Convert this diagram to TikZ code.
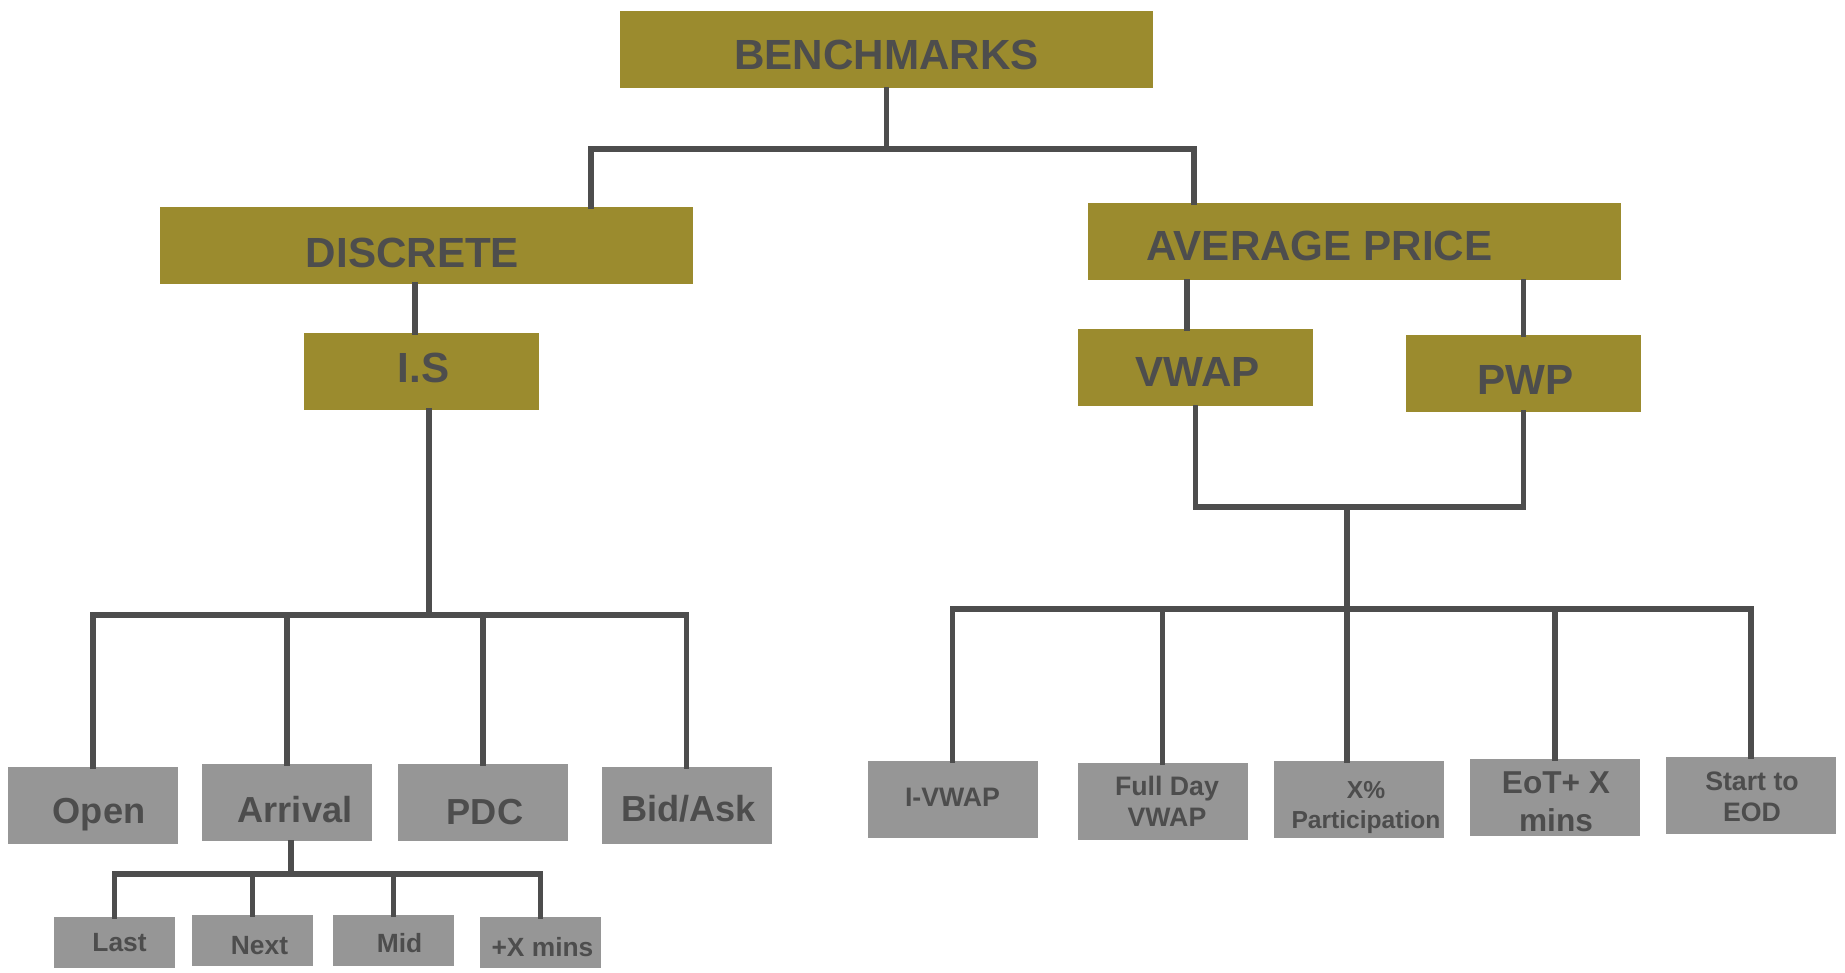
\documentclass[tikz,border=0pt]{standalone}
\usepackage{fontspec}
\setmainfont{Liberation Sans}
\usetikzlibrary{positioning}
\definecolor{olivebox}{HTML}{9B8B2E}
\definecolor{leafgray}{HTML}{969696}
\definecolor{darktext}{HTML}{4D4D4D}
% move a label inside its box: x, y (down), text
\newcommand{\nudge}[3]{\hspace*{2\dimexpr#1\relax}\raisebox{-#2}[\height][\depth]{#3}}
\newcommand{\twoline}[2]{\begin{tabular}{@{}c@{}}#1\\#2\end{tabular}}

\begin{document}
\begin{tikzpicture}[
		x=0.1mm, y=-0.1mm,
		every node/.style={font=\bfseries, text=darktext, inner sep=0pt},
		catbox/.style={fill=olivebox, minimum width=53.3mm, minimum height=7.7mm,
			font=\fontsize{12}{14}\selectfont\bfseries},
		midbox/.style={catbox, minimum width=23.5mm},
		leafbox/.style={fill=leafgray, minimum width=17mm, minimum height=7.7mm,
			align=center, font=\fontsize{10.3}{12}\selectfont\bfseries},
		rleaf/.style={leafbox, font=\fontsize{7.6}{8.8}\selectfont\bfseries},
		subbox/.style={fill=leafgray, minimum width=12.1mm, minimum height=5.1mm,
			font=\fontsize{7.5}{9}\selectfont\bfseries},
		conn/.style={line width=1.45pt, darktext, line cap=rect},
		]
		\useasboundingbox (0,0) rectangle (1845,973);

		% Top levels
		\node[catbox] (bench) at (886.5,50) {\nudge{0mm}{0.45mm}{BENCHMARKS}};
		\node[catbox] (disc) at (426.5,245.5) {\nudge{-1.4mm}{0.7mm}{DISCRETE}};
		\node[catbox] (avg) at (1354.5,242) {\nudge{-3.5mm}{0.35mm}{AVERAGE PRICE}};
		\node[midbox] (is) at (421.5,371.5) {\nudge{0.2mm}{-0.35mm}{I.S}};
		\node[midbox] (vwap) at (1195.5,368) {\nudge{0.2mm}{0.45mm}{VWAP}};
		\node[midbox] (pwp) at (1523.5,373.5) {\nudge{0.2mm}{0.7mm}{PWP}};

		% Discrete leaves
		\node[leafbox] (open) at (93,805.5) {\nudge{0.6mm}{0.9mm}{Open}};
		\node[leafbox] (arrival) at (287,803) {\nudge{0.8mm}{0.7mm}{Arrival}};
		\node[leafbox] (pdc) at (483,803) {\nudge{0.2mm}{0.9mm}{PDC}};
		\node[leafbox] (bidask) at (686.5,805.5) {\nudge{0.2mm}{0.35mm}{Bid/Ask}};

		% Arrival sub-leaves
		\node[subbox] (last) at (114.5,942.5) {\nudge{0.5mm}{0mm}{Last}};
		\node[subbox] (next) at (252.5,941) {\nudge{0.7mm}{0.45mm}{Next}};
		\node[subbox] (mid) at (393.5,941) {\nudge{0.6mm}{0.2mm}{Mid}};
		\node[subbox] (plusx) at (540.5,942.5) {\nudge{0.2mm}{0.45mm}{+X mins}};

		% Average price leaves
		\node[rleaf] (ivwap) at (952.5,799.5) {\nudge{0mm}{-0.2mm}{I-VWAP}};
		\node[rleaf] (fullday) at (1162.5,801.5) {\nudge{0.45mm}{0.35mm}{\twoline{Full Day}{VWAP}}};
		\node[rleaf, font=\fontsize{7}{8.4}\selectfont\bfseries] (xpart) at (1359,799.5)
			{\nudge{0.7mm}{0.8mm}{\twoline{X\%}{Participation}}};
		\node[rleaf, font=\fontsize{9}{10.7}\selectfont\bfseries] (eot) at (1555,798)
			{\nudge{0.1mm}{0.7mm}{\twoline{EoT+ X}{mins}}};
		\node[rleaf] (start) at (1751,795.5) {\nudge{0.1mm}{0.45mm}{\twoline{Start to}{EOD}}};

		% Bus points
		\coordinate (tbusl) at (591,149);
		\coordinate (tbusr) at (1194,149);
		\coordinate (istop) at (415,0);
		\coordinate (vtop) at (1187,0);
		\coordinate (lbus) at (429,615);
		\coordinate (abus) at (291,874);
		\coordinate (vpbus) at (1347,507);
		\coordinate (rbus) at (1347,609);

		% Connectors
		\draw[conn] (bench.south) -- (bench.south |- tbusl);
		\draw[conn] (tbusl) -- (tbusr);
		\draw[conn] (tbusl) -- (tbusl |- disc.north);
		\draw[conn] (tbusr) -- (tbusr |- avg.north);
		\draw[conn] (istop |- disc.south) -- (istop |- is.north);
		\draw[conn] (vtop |- vwap.north) -- (vtop |- avg.south);
		\draw[conn] (pwp.north) -- (pwp.north |- avg.south);

		\draw[conn] (lbus |- is.south) -- (lbus);
		\draw[conn] (open.north |- lbus) -- (bidask.north |- lbus);
		\foreach \n in {open, arrival, pdc, bidask} {
			\draw[conn] (\n.north) -- (\n.north |- lbus);
		}

		\draw[conn] (abus |- arrival.south) -- (abus);
		\draw[conn] (last.north |- abus) -- (plusx.north |- abus);
		\foreach \n in {last, next, mid, plusx} {
			\draw[conn] (\n.north) -- (\n.north |- abus);
		}

		\draw[conn] (vwap.south) -- (vwap.south |- vpbus) -| (pwp.south);
		\draw[conn] (vpbus) -- (vpbus |- xpart.north);
		\draw[conn] (ivwap.north |- rbus) -- (start.north |- rbus);
		\foreach \n in {ivwap, fullday, eot, start} {
			\draw[conn] (\n.north) -- (\n.north |- rbus);
		}
	\end{tikzpicture}
\end{document}
